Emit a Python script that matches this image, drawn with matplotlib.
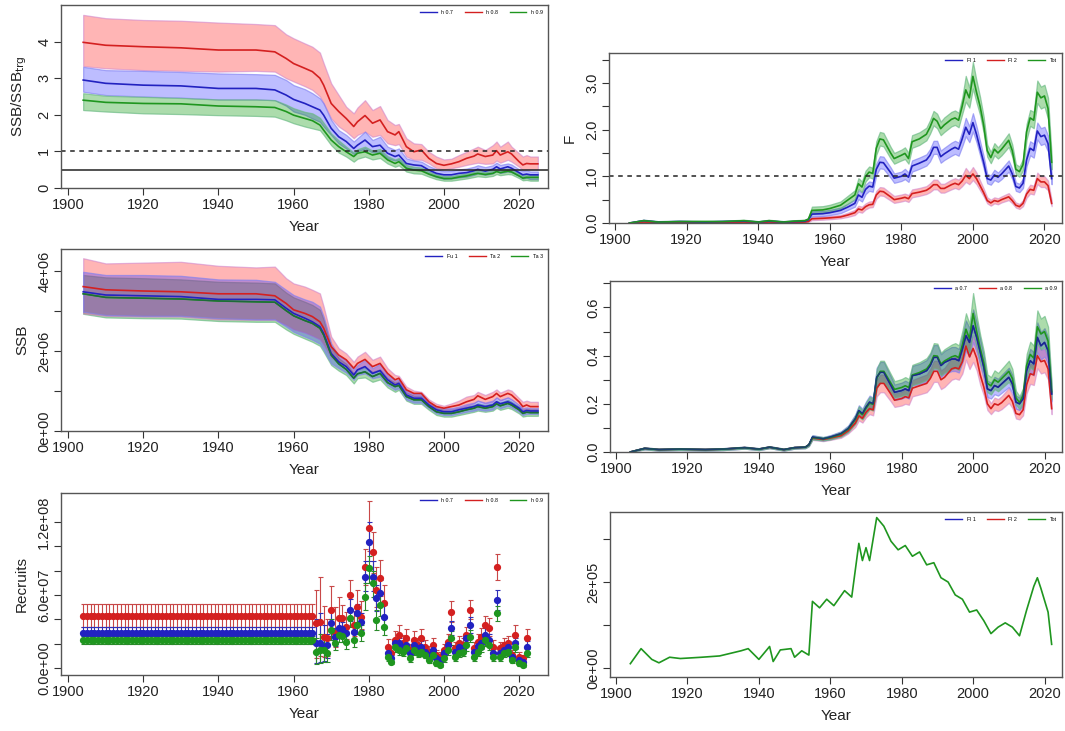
import matplotlib
matplotlib.use("Agg")
import matplotlib.pyplot as plt
import numpy as np
from matplotlib.lines import Line2D

plt.rcParams['font.family'] = ['Liberation Sans', 'DejaVu Sans']

# ---------------- DATA ----------------
# Panel 1/2 year grid (SSB)
ssb_years = [1904,1910,1920,1930,1940,1950,1955,1958,1960,1963,1965,1967,1968,1970,1972,1974,1976,1977,1979,1981,
             1983,1985,1987,1988,1990,1992,1994,1996,1998,2000,2002,2004,2006,2008,2009,2011,2013,2014,2015,2017,
             2018,2020,2021,2022,2023,2025]

# SSB / SSB_trg
rel_red_med = [3.98,3.90,3.86,3.83,3.77,3.77,3.72,3.54,3.40,3.27,3.18,3.00,2.81,2.31,2.09,1.90,1.68,1.81,1.98,1.77,1.86,1.54,1.45,1.54,1.13,0.99,1.04,0.81,0.67,0.62,0.66,0.72,0.81,0.87,0.93,0.86,0.90,1.02,0.90,0.99,0.93,0.72,0.63,0.67,0.66,0.66]
rel_red_hi = [4.73,4.64,4.59,4.57,4.52,4.48,4.45,4.20,4.09,3.95,3.86,3.70,3.41,2.86,2.54,2.22,2.04,2.20,2.40,2.13,2.24,1.86,1.72,1.75,1.36,1.22,1.20,0.99,0.86,0.78,0.80,0.90,0.99,1.08,1.13,1.04,1.17,1.27,1.13,1.27,1.13,0.95,0.86,0.90,0.86,0.86]
rel_red_lo = [3.33,3.27,3.22,3.20,3.18,3.20,3.18,3.00,2.91,2.78,2.68,2.50,2.31,1.90,1.68,1.54,1.36,1.45,1.54,1.40,1.45,1.22,1.17,1.20,0.86,0.77,0.77,0.67,0.54,0.51,0.54,0.58,0.63,0.67,0.69,0.66,0.67,0.75,0.69,0.77,0.72,0.58,0.49,0.51,0.51,0.51]
rel_blue_med = [2.95,2.86,2.81,2.79,2.72,2.72,2.68,2.54,2.42,2.31,2.22,2.13,1.99,1.63,1.40,1.27,1.08,1.17,1.31,1.13,1.17,0.95,0.86,0.90,0.67,0.63,0.61,0.49,0.40,0.36,0.36,0.40,0.42,0.47,0.51,0.46,0.51,0.58,0.52,0.58,0.54,0.42,0.36,0.38,0.36,0.36]
rel_blue_hi = [3.31,3.22,3.20,3.17,3.13,3.11,3.09,2.95,2.81,2.70,2.59,2.45,2.31,1.86,1.58,1.45,1.27,1.36,1.54,1.31,1.40,1.13,1.04,1.08,0.81,0.75,0.72,0.60,0.51,0.46,0.47,0.51,0.53,0.58,0.62,0.57,0.62,0.69,0.63,0.67,0.64,0.51,0.46,0.48,0.45,0.45]
rel_blue_lo = [2.63,2.54,2.50,2.47,2.42,2.42,2.40,2.25,2.09,2.00,1.90,1.81,1.68,1.45,1.22,1.08,0.93,1.00,1.08,0.97,1.00,0.81,0.75,0.78,0.54,0.52,0.50,0.38,0.30,0.25,0.26,0.29,0.31,0.36,0.40,0.36,0.40,0.47,0.41,0.45,0.43,0.33,0.26,0.28,0.24,0.24]
rel_green_med = [2.40,2.34,2.31,2.30,2.24,2.22,2.20,2.09,1.99,1.90,1.84,1.72,1.58,1.31,1.13,0.99,0.86,0.95,0.99,0.90,0.95,0.77,0.67,0.72,0.54,0.49,0.47,0.38,0.31,0.26,0.26,0.30,0.33,0.38,0.40,0.37,0.40,0.45,0.42,0.46,0.44,0.33,0.27,0.29,0.29,0.29]
rel_green_hi = [2.59,2.52,2.49,2.46,2.42,2.42,2.40,2.28,2.18,2.08,2.04,1.92,1.78,1.49,1.30,1.13,0.97,1.06,1.13,1.02,1.07,0.87,0.78,0.82,0.63,0.58,0.56,0.45,0.38,0.33,0.33,0.37,0.40,0.45,0.48,0.44,0.48,0.53,0.49,0.53,0.51,0.40,0.34,0.36,0.36,0.36]
rel_green_lo = [2.13,2.09,2.04,2.02,1.99,1.97,1.95,1.85,1.77,1.68,1.63,1.58,1.45,1.17,0.97,0.86,0.72,0.80,0.86,0.78,0.82,0.67,0.58,0.62,0.45,0.40,0.39,0.31,0.24,0.20,0.20,0.23,0.26,0.30,0.32,0.30,0.33,0.38,0.35,0.38,0.37,0.27,0.21,0.22,0.20,0.20]

# SSB (millions of units)
ssb_red_med = [3.61,3.53,3.50,3.48,3.43,3.43,3.38,3.19,3.03,2.94,2.86,2.73,2.57,2.11,1.90,1.78,1.57,1.69,1.79,1.61,1.69,1.44,1.28,1.32,1.03,0.94,0.94,0.73,0.61,0.57,0.61,0.65,0.73,0.79,0.88,0.79,0.86,0.94,0.86,0.94,0.90,0.73,0.61,0.65,0.61,0.61]
ssb_red_hi = [4.32,4.19,4.21,4.23,4.13,4.09,4.11,3.82,3.69,3.61,3.53,3.44,3.11,2.36,2.07,1.94,1.73,1.86,1.98,1.78,1.86,1.57,1.40,1.38,1.11,1.01,0.98,0.79,0.68,0.63,0.69,0.76,0.86,0.90,0.98,0.90,0.98,1.04,0.96,1.04,1.01,0.82,0.73,0.76,0.73,0.73]
ssb_red_lo = [2.94,2.88,2.86,2.86,2.79,2.78,2.78,2.65,2.54,2.46,2.38,2.29,2.15,1.84,1.71,1.59,1.40,1.53,1.61,1.46,1.53,1.29,1.15,1.23,0.94,0.86,0.88,0.68,0.54,0.51,0.54,0.57,0.63,0.69,0.76,0.69,0.73,0.84,0.76,0.84,0.79,0.65,0.51,0.54,0.51,0.51]
ssb_blue_med = [3.48,3.40,3.38,3.36,3.29,3.29,3.28,3.07,2.94,2.82,2.73,2.61,2.44,1.94,1.73,1.61,1.40,1.53,1.61,1.44,1.51,1.28,1.15,1.19,0.90,0.82,0.82,0.65,0.53,0.48,0.48,0.53,0.57,0.61,0.65,0.61,0.65,0.73,0.68,0.73,0.69,0.57,0.48,0.51,0.50,0.50]
ssb_blue_hi = [3.98,3.90,3.90,3.88,3.79,3.78,3.73,3.53,3.40,3.29,3.23,3.11,2.86,2.19,1.88,1.76,1.54,1.65,1.78,1.57,1.68,1.40,1.26,1.29,1.01,0.93,0.93,0.73,0.61,0.57,0.57,0.61,0.67,0.71,0.76,0.71,0.76,0.84,0.78,0.84,0.79,0.65,0.57,0.59,0.57,0.57]
ssb_blue_lo = [2.98,2.90,2.88,2.88,2.82,2.79,2.79,2.61,2.48,2.36,2.28,2.18,2.03,1.69,1.57,1.46,1.28,1.40,1.44,1.32,1.36,1.15,1.03,1.07,0.79,0.71,0.71,0.57,0.44,0.40,0.40,0.44,0.48,0.51,0.54,0.51,0.54,0.63,0.57,0.63,0.59,0.48,0.40,0.43,0.43,0.43]
ssb_green_med = [3.43,3.34,3.32,3.30,3.25,3.23,3.22,3.01,2.88,2.76,2.69,2.57,2.40,1.90,1.68,1.54,1.32,1.43,1.48,1.36,1.44,1.21,1.11,1.14,0.86,0.78,0.78,0.61,0.48,0.44,0.44,0.48,0.53,0.57,0.61,0.57,0.61,0.68,0.63,0.69,0.65,0.53,0.44,0.47,0.46,0.46]
ssb_green_hi = [3.90,3.84,3.82,3.79,3.73,3.71,3.69,3.46,3.34,3.23,3.15,3.03,2.78,2.11,1.82,1.68,1.44,1.54,1.59,1.48,1.54,1.32,1.21,1.24,0.96,0.88,0.88,0.69,0.57,0.53,0.53,0.57,0.61,0.65,0.69,0.65,0.69,0.76,0.71,0.78,0.73,0.61,0.53,0.55,0.54,0.54]
ssb_green_lo = [2.93,2.84,2.82,2.81,2.75,2.73,2.73,2.54,2.43,2.31,2.23,2.13,1.98,1.65,1.51,1.40,1.19,1.32,1.34,1.23,1.29,1.09,0.98,1.03,0.76,0.68,0.68,0.53,0.40,0.36,0.36,0.40,0.44,0.48,0.51,0.48,0.51,0.58,0.53,0.58,0.55,0.44,0.36,0.38,0.38,0.38]

# Recruits (millions) - early constant period and annual estimates
rec_early_years = list(range(1904, 1966))
rec_early = {'red': (42.7, 34.0, 53.0), 'blue': (29.0, 24.0, 34.0), 'green': (23.0, 19.5, 26.5)}
rec_years = list(range(1966, 2023))
rec_red = [36.7,38.1,25.8,24.4,47.7,28.5,40.8,40.8,34.0,60.0,35.3,50.4,42.2,83.3,114.8,95.6,64.1,73.7,53.2,17.5,12.1,23.0,27.1,20.3,24.4,14.8,23.0,18.9,24.4,17.5,13.4,18.9,10.7,9.3,14.8,21.6,46.3,16.2,20.3,18.9,27.1,47.7,16.2,21.6,25.8,35.3,32.6,17.5,82.7,16.2,18.9,20.3,10.7,27.1,9.3,7.9,24.4]
rec_red_hi = [64,75,51,40,67,50,58,52,46,72,47,64,55,98,137,112,83,89,68,24,17,30,35,27,32,20,30,25,32,23,18,25,15,13,20,28,55,21,26,25,34,56,21,28,33,43,41,23,94,21,25,26,15,35,13,11,32]
rec_red_lo = [8,10,9,10,30,17,28,29,24,47,26,38,32,68,96,78,50,59,41,12,8,17,20,15,18,10,17,14,18,13,9,14,7,6,10,16,38,12,15,14,21,40,12,16,19,28,26,13,72,12,14,15,7,20,6,5,18]
rec_blue = [20.3,20.3,17.5,18.9,36.7,25.8,32.6,31.8,28.5,47.7,29.9,44.9,38.1,75.1,103.8,75.1,57.3,61.4,42.2,12.1,7.9,20.3,20.3,17.5,18.9,12.1,18.9,16.2,17.5,13.4,10.7,14.8,7.9,6.6,12.1,18.9,32.6,13.4,17.5,16.2,24.4,35.3,13.4,18.1,20.3,27.1,23.0,12.1,55.9,12.1,14.8,17.5,9.3,20.3,6.6,5.2,17.5]
rec_blue_hi = [40,45,35,28,48,33,40,38,35,57,36,53,45,88,120,88,68,72,52,16,11,25,25,22,23,16,23,20,22,17,14,19,11,9,16,23,39,17,22,20,29,42,17,22,25,33,28,16,64,16,19,22,13,25,9,8,22]
rec_blue_lo = [4,5,6,8,26,18,25,25,22,39,23,37,31,63,88,63,47,51,33,8,5,16,16,13,15,8,15,12,13,10,7,11,5,4,8,15,27,10,13,12,20,29,10,14,16,22,18,8,48,8,11,13,6,16,4,3,13]
rec_green = [13.4,14.8,14.8,12.1,31.2,20.3,27.1,26.3,21.6,40.8,23.0,35.3,28.5,58.6,81.9,69.6,39.5,51.8,34.0,9.3,5.2,17.5,14.8,13.4,16.2,7.9,14.8,12.1,13.4,10.7,6.6,10.7,3.8,2.5,7.9,14.8,24.4,9.3,12.1,13.4,18.9,25.8,9.3,13.4,17.5,23.0,18.9,9.3,44.9,9.3,12.1,13.4,6.6,17.5,3.8,2.5,12.1]
rec_green_hi = [25,28,24,20,40,26,33,32,28,48,29,43,35,70,92,80,48,61,41,13,8,22,19,17,20,11,19,16,17,14,10,14,7,6,11,19,30,13,16,17,24,31,13,17,22,28,23,13,51,13,16,17,10,22,6,5,16]
rec_green_lo = [3,4,5,5,23,15,21,21,16,34,17,28,22,48,70,58,31,43,27,6,3,13,11,10,12,5,11,9,10,8,4,8,2,1,5,11,19,6,9,10,14,21,6,10,13,18,15,6,39,6,9,10,4,13,2,1,9]

# Right column year grid
rc_years = [1904,1908,1912,1918,1925,1930,1936,1940,1943,1947,1950,1953,1954,
            1955,1958,1960,1963,1965,1967,1968,1969,1970,1971,1972,1973,1974,1975,1977,1978,1980,1981,1982,1983,
            1985,1987,1988,1989,1990,1991,1992,1994,1995,1996,1997,1998,1999,2000,2001,2002,2003,2004,2005,2006,
            2007,2008,2010,2011,2012,2013,2014,2015,2016,2017,2018,2019,2020,2021,2022]

# Fishing mortality
F_tot_med = [0.00,0.05,0.02,0.03,0.03,0.03,0.05,0.02,0.05,0.02,0.04,0.05,0.08,
             0.27,0.28,0.31,0.38,0.49,0.60,0.84,0.77,1.00,1.09,1.06,1.60,1.80,1.78,1.50,1.38,1.45,1.49,1.38,1.74,1.80,1.90,2.05,2.24,2.18,2.02,2.10,2.22,2.25,2.20,2.50,2.85,2.68,3.14,2.80,2.50,2.10,1.55,1.40,1.58,1.50,1.58,1.77,1.55,1.15,1.10,1.25,1.95,2.25,2.20,2.80,2.68,2.72,2.45,1.30]
F_tot_hi = [0.01,0.07,0.04,0.05,0.05,0.05,0.07,0.04,0.07,0.04,0.06,0.07,0.11,
            0.35,0.36,0.39,0.46,0.58,0.70,0.96,0.89,1.12,1.21,1.18,1.75,1.95,1.93,1.63,1.50,1.57,1.62,1.50,1.88,1.94,2.04,2.20,2.40,2.34,2.17,2.26,2.38,2.41,2.36,2.68,3.15,2.90,3.45,3.05,2.70,2.28,1.68,1.52,1.71,1.62,1.71,1.92,1.68,1.26,1.21,1.37,2.12,2.42,2.38,3.05,2.92,2.96,2.68,1.45]
F_tot_lo = [0.00,0.03,0.01,0.02,0.02,0.02,0.03,0.01,0.03,0.01,0.02,0.03,0.06,
            0.20,0.21,0.24,0.30,0.41,0.51,0.73,0.66,0.89,0.98,0.95,1.46,1.66,1.64,1.38,1.27,1.34,1.37,1.27,1.61,1.67,1.77,1.91,2.09,2.03,1.88,1.95,2.07,2.10,2.05,2.33,2.60,2.47,2.88,2.58,2.31,1.93,1.42,1.28,1.45,1.38,1.45,1.63,1.42,1.04,0.99,1.13,1.79,2.08,2.03,2.57,2.45,2.49,2.23,1.15]
F_a1_med = [0.00,0.05,0.02,0.03,0.02,0.03,0.04,0.02,0.04,0.02,0.03,0.04,0.07,
            0.19,0.20,0.22,0.27,0.34,0.42,0.60,0.55,0.72,0.79,0.77,1.15,1.30,1.29,1.08,0.96,1.00,1.05,0.98,1.22,1.28,1.35,1.45,1.62,1.62,1.42,1.48,1.58,1.62,1.58,1.80,2.05,1.90,2.15,1.90,1.60,1.30,0.95,0.92,1.03,0.98,1.05,1.22,1.05,0.78,0.75,0.85,1.35,1.60,1.55,1.97,1.85,1.88,1.70,0.95]
F_a1_hi = [0.01,0.07,0.04,0.05,0.04,0.05,0.06,0.04,0.06,0.04,0.05,0.06,0.10,
           0.25,0.26,0.28,0.33,0.41,0.50,0.70,0.65,0.82,0.89,0.87,1.27,1.43,1.42,1.19,1.06,1.10,1.16,1.08,1.34,1.40,1.47,1.58,1.76,1.76,1.55,1.61,1.72,1.76,1.72,1.96,2.25,2.07,2.35,2.07,1.75,1.43,1.05,1.02,1.14,1.08,1.16,1.34,1.16,0.87,0.84,0.95,1.48,1.75,1.70,2.15,2.03,2.06,1.87,1.07]
F_a1_lo = [0.00,0.03,0.01,0.02,0.01,0.02,0.03,0.01,0.03,0.01,0.02,0.03,0.05,
           0.14,0.15,0.17,0.21,0.28,0.35,0.51,0.46,0.62,0.69,0.67,1.03,1.17,1.16,0.97,0.86,0.90,0.94,0.88,1.10,1.16,1.23,1.32,1.48,1.48,1.29,1.35,1.44,1.48,1.44,1.64,1.86,1.73,1.96,1.73,1.45,1.17,0.85,0.82,0.92,0.88,0.94,1.10,0.94,0.69,0.66,0.75,1.22,1.45,1.40,1.79,1.67,1.70,1.53,0.83]
F_a2_med = [0.00,0.02,0.01,0.01,0.01,0.01,0.02,0.01,0.02,0.01,0.01,0.02,0.03,
            0.09,0.10,0.11,0.13,0.17,0.22,0.30,0.28,0.35,0.39,0.40,0.60,0.68,0.67,0.56,0.50,0.53,0.55,0.52,0.63,0.66,0.70,0.75,0.82,0.82,0.74,0.74,0.82,0.85,0.82,0.90,1.02,0.95,1.05,0.95,0.80,0.65,0.48,0.43,0.48,0.46,0.50,0.56,0.48,0.38,0.35,0.42,0.62,0.72,0.70,0.95,0.88,0.88,0.80,0.42]
F_a2_hi = [0.01,0.03,0.02,0.02,0.02,0.02,0.03,0.02,0.03,0.02,0.02,0.03,0.05,
           0.13,0.14,0.15,0.17,0.22,0.28,0.37,0.35,0.42,0.46,0.47,0.69,0.77,0.76,0.64,0.58,0.61,0.63,0.60,0.72,0.75,0.79,0.85,0.93,0.93,0.84,0.84,0.93,0.96,0.93,1.02,1.18,1.08,1.20,1.08,0.91,0.74,0.55,0.50,0.55,0.53,0.57,0.64,0.55,0.44,0.41,0.49,0.71,0.82,0.80,1.08,1.00,1.00,0.91,0.49]
F_a2_lo = [0.00,0.01,0.00,0.00,0.00,0.00,0.01,0.00,0.01,0.00,0.00,0.01,0.02,
           0.06,0.07,0.08,0.10,0.13,0.17,0.24,0.22,0.29,0.33,0.34,0.52,0.59,0.58,0.48,0.43,0.46,0.48,0.45,0.55,0.58,0.62,0.66,0.72,0.72,0.65,0.65,0.72,0.75,0.72,0.79,0.88,0.83,0.92,0.83,0.70,0.57,0.42,0.37,0.42,0.40,0.44,0.49,0.42,0.33,0.30,0.36,0.54,0.63,0.61,0.83,0.77,0.77,0.70,0.36]

# Exploitation (panel 5)
E_pre = [0.000,0.015,0.010,0.012,0.010,0.012,0.018,0.012,0.020,0.010,0.018,0.020,0.030]
E_pre_hi = [0.004,0.019,0.014,0.016,0.014,0.016,0.022,0.016,0.024,0.014,0.022,0.024,0.035]
E_pre_lo = [0.000,0.011,0.006,0.008,0.006,0.008,0.014,0.008,0.016,0.006,0.014,0.016,0.025]
E_blue_med = [0.062,0.055,0.062,0.076,0.097,0.138,0.172,0.159,0.186,0.207,0.200,0.310,0.331,0.331,0.276,0.248,0.255,0.262,0.255,0.317,0.324,0.338,0.359,0.393,0.393,0.359,0.372,0.386,0.386,0.379,0.428,0.483,0.455,0.524,0.476,0.414,0.352,0.262,0.255,0.276,0.269,0.283,0.310,0.283,0.207,0.200,0.221,0.338,0.379,0.366,0.476,0.441,0.455,0.421,0.241]
E_blue_hi = [0.070,0.062,0.070,0.086,0.110,0.156,0.194,0.180,0.210,0.234,0.226,0.350,0.374,0.374,0.312,0.280,0.288,0.296,0.288,0.358,0.366,0.382,0.406,0.444,0.444,0.406,0.420,0.436,0.436,0.428,0.484,0.546,0.514,0.592,0.538,0.468,0.398,0.296,0.288,0.312,0.304,0.320,0.350,0.320,0.234,0.226,0.250,0.382,0.428,0.414,0.538,0.498,0.514,0.476,0.272]
E_blue_lo = [0.054,0.048,0.054,0.066,0.084,0.120,0.150,0.138,0.162,0.180,0.174,0.270,0.288,0.288,0.240,0.216,0.222,0.228,0.222,0.276,0.282,0.294,0.312,0.342,0.342,0.312,0.324,0.336,0.336,0.330,0.372,0.420,0.396,0.456,0.414,0.360,0.306,0.228,0.222,0.240,0.234,0.246,0.270,0.246,0.180,0.174,0.192,0.294,0.330,0.318,0.414,0.384,0.396,0.366,0.210]
E_green_med = [0.060,0.055,0.060,0.074,0.095,0.135,0.168,0.155,0.182,0.203,0.198,0.305,0.335,0.335,0.285,0.260,0.268,0.275,0.268,0.320,0.330,0.345,0.365,0.400,0.398,0.365,0.378,0.395,0.400,0.392,0.445,0.510,0.470,0.575,0.500,0.430,0.370,0.285,0.275,0.300,0.290,0.305,0.335,0.305,0.225,0.205,0.235,0.360,0.405,0.390,0.520,0.490,0.500,0.460,0.250]
E_green_hi = [0.068,0.062,0.068,0.084,0.107,0.153,0.190,0.175,0.206,0.229,0.224,0.345,0.379,0.379,0.322,0.294,0.303,0.311,0.303,0.362,0.373,0.390,0.412,0.452,0.450,0.412,0.427,0.446,0.452,0.443,0.503,0.576,0.531,0.660,0.565,0.486,0.418,0.322,0.311,0.339,0.328,0.345,0.379,0.345,0.254,0.232,0.266,0.407,0.458,0.441,0.588,0.554,0.565,0.520,0.283]
E_green_lo = [0.052,0.048,0.052,0.064,0.083,0.117,0.146,0.135,0.158,0.177,0.172,0.265,0.291,0.291,0.248,0.226,0.233,0.239,0.233,0.278,0.287,0.300,0.318,0.348,0.346,0.318,0.329,0.344,0.348,0.341,0.387,0.444,0.409,0.500,0.435,0.374,0.322,0.248,0.239,0.261,0.252,0.265,0.291,0.265,0.196,0.178,0.204,0.313,0.352,0.339,0.452,0.426,0.435,0.400,0.218]
E_red_med = [0.058,0.052,0.058,0.068,0.088,0.120,0.150,0.140,0.165,0.180,0.175,0.265,0.285,0.285,0.240,0.215,0.222,0.230,0.225,0.265,0.275,0.285,0.305,0.335,0.335,0.300,0.310,0.345,0.350,0.345,0.375,0.440,0.395,0.430,0.390,0.320,0.270,0.200,0.180,0.200,0.195,0.205,0.235,0.210,0.160,0.155,0.175,0.280,0.325,0.320,0.400,0.375,0.380,0.345,0.180]
E_red_hi = [0.066,0.059,0.066,0.077,0.099,0.136,0.170,0.158,0.186,0.203,0.198,0.299,0.322,0.322,0.271,0.243,0.251,0.260,0.254,0.299,0.311,0.322,0.345,0.379,0.379,0.339,0.350,0.390,0.396,0.390,0.424,0.497,0.446,0.486,0.441,0.362,0.305,0.226,0.203,0.226,0.220,0.232,0.266,0.237,0.181,0.175,0.198,0.316,0.367,0.362,0.452,0.424,0.429,0.390,0.203]
E_red_lo = [0.050,0.045,0.050,0.059,0.077,0.104,0.131,0.122,0.144,0.157,0.152,0.231,0.248,0.248,0.209,0.187,0.193,0.200,0.196,0.231,0.239,0.248,0.265,0.291,0.291,0.261,0.270,0.300,0.305,0.300,0.326,0.383,0.344,0.374,0.339,0.278,0.235,0.174,0.157,0.174,0.170,0.178,0.204,0.183,0.139,0.135,0.152,0.244,0.283,0.278,0.348,0.326,0.331,0.300,0.157]

# Catch (panel 6, x1e5)
c_years = [1904,1907,1910,1912,1915,1918,1924,1929,1935,1937,1940,1943,1944,1946,1949,1950,1952,1954,1955,1957,1959,1961,1964,1966,
           1968,1969,1970,1971,1973,1975,1977,1979,1981,1983,1985,1987,1989,1991,1993,1995,1997,1999,2001,2003,2005,2007,2009,
           2011,2013,2015,2017,2018,2019,2021,2022]
c_vals = [0.10,0.45,0.20,0.12,0.25,0.22,0.25,0.28,0.40,0.45,0.20,0.50,0.15,0.42,0.45,0.25,0.40,0.30,1.55,1.40,1.60,1.45,1.80,1.65,
          2.90,2.50,2.80,2.50,3.50,3.30,2.95,2.75,2.85,2.60,2.70,2.40,2.45,2.10,2.00,1.70,1.60,1.30,1.35,1.10,0.80,0.95,1.05,
          0.95,0.75,1.35,1.90,2.10,1.85,1.30,0.55]

leg_left = ['h 0.7', 'h 0.8', 'h 0.9']
leg_ssb = ['Fu 1', 'Ta 2', 'Ta 3']
leg_fleet = ['Fl 1', 'Fl 2', 'Tot']
leg_e = ['a 0.7', 'a 0.8', 'a 0.9']
year_ticks = [1900, 1920, 1940, 1960, 1980, 2000, 2020]

# ---------------- STYLE ----------------
RED = '#d42020'
BLUE = '#2222c0'
GREEN = '#1f961f'
FILL = {'red': (1.0, 0.2, 0.2, 0.36), 'blue': (0.2, 0.2, 1.0, 0.32), 'green': (0.05, 0.6, 0.05, 0.34)}
EDGE = {'red': (0.8, 0.5, 0.8, 0.55), 'blue': (0.5, 0.5, 0.95, 0.65), 'green': (0.4, 0.72, 0.5, 0.65)}
LINE = {'red': RED, 'blue': BLUE, 'green': GREEN}

W, H = 1065, 731
fig = plt.figure(figsize=(W / 100, H / 100), dpi=100)


def add_ax(l, t, r, b):
    return fig.add_axes([l / W, 1 - b / H, (r - l) / W, (b - t) / H])


def style(ax, xlim, ylim, yticks, ylabels, ylabel=None, ylabel_x=None):
    ax.set_xlim(*xlim)
    ax.set_ylim(*ylim)
    ax.set_xticks(year_ticks)
    ax.set_yticks(yticks)
    ax.set_yticklabels(ylabels)
    ax.tick_params(direction='out', length=5, width=0.8, color='#333333', labelsize=10.5,
                   labelcolor='#222222', pad=2)
    ax.tick_params(axis='y', labelrotation=90)
    for t in ax.get_yticklabels():
        t.set_verticalalignment('center')
    for s in ax.spines.values():
        s.set_color('#555555')
        s.set_linewidth(1.0)
    ax.set_xlabel('Year', fontsize=11, labelpad=6, color='#222222')
    if ylabel:
        ax.set_ylabel(ylabel, fontsize=11, labelpad=6, color='#222222')
        if ylabel_x is not None:
            ax.yaxis.set_label_coords(ylabel_x, 0.5)


def legend(ax, labels, colors):
    handles = [Line2D([0], [0], color=c, lw=1.0) for c in colors]
    ax.legend(handles, labels, loc='upper right', ncol=3, fontsize=3.8, frameon=False,
              handlelength=3.2, columnspacing=2.2, handletextpad=0.8, borderaxespad=0.6)


def band(ax, x, lo, hi, med, key, lw=1.2):
    ax.fill_between(x, lo, hi, facecolor=FILL[key], edgecolor=EDGE[key], linewidth=0.9)
    ax.plot(x, med, color=LINE[key], lw=lw)


left_xlim = (1898.1, 2027.7)
right_xlim = (1898.3, 2024.9)

# Panel 1: SSB/SSB_trg
ax1 = add_ax(61, 5, 548, 188)
band(ax1, ssb_years, rel_red_lo, rel_red_hi, rel_red_med, 'red')
band(ax1, ssb_years, rel_blue_lo, rel_blue_hi, rel_blue_med, 'blue')
band(ax1, ssb_years, rel_green_lo, rel_green_hi, rel_green_med, 'green')
ax1.axhline(1.0, color='#222222', lw=1.1, ls=(0, (3, 3)))
ax1.axhline(0.5, color='#222222', lw=1.1)
style(ax1, left_xlim, (0, 5.0), [0, 1, 2, 3, 4], ['0', '1', '2', '3', '4'], r'SSB/SSB$_{\mathrm{trg}}$')
legend(ax1, leg_left, [BLUE, RED, GREEN])

# Panel 2: SSB
ax2 = add_ax(61, 249, 548, 431)
sc = 1e6
band(ax2, ssb_years, np.array(ssb_green_lo) * sc, np.array(ssb_green_hi) * sc, np.array(ssb_green_med) * sc, 'green')
band(ax2, ssb_years, np.array(ssb_red_lo) * sc, np.array(ssb_red_hi) * sc, np.array(ssb_red_med) * sc, 'red')
band(ax2, ssb_years, np.array(ssb_blue_lo) * sc, np.array(ssb_blue_hi) * sc, np.array(ssb_blue_med) * sc, 'blue')
ax2.plot(ssb_years, np.array(ssb_green_med) * sc, color='#1d6a3a', lw=1.0)
style(ax2, left_xlim, (0, 4.55e6), [0, 1e6, 2e6, 3e6, 4e6], ['0e+00', '', '2e+06', '', '4e+06'], 'SSB')
legend(ax2, leg_ssb, [BLUE, RED, GREEN])

# Panel 3: Recruits
ax3 = add_ax(61, 493, 548, 675)
rsc = 1e6
ebar_col = {'red': '#c84848', 'blue': '#3030b8', 'green': '#2a8a2a'}
rec_sets = [('red', rec_red, rec_red_lo, rec_red_hi), ('blue', rec_blue, rec_blue_lo, rec_blue_hi),
            ('green', rec_green, rec_green_lo, rec_green_hi)]
for key, med, lo, hi in rec_sets:
    em, elo, ehi = rec_early[key]
    yrs = rec_early_years + rec_years
    m = np.array([em] * len(rec_early_years) + med) * rsc
    l = np.array([elo] * len(rec_early_years) + lo) * rsc
    h = np.array([ehi] * len(rec_early_years) + hi) * rsc
    ax3.errorbar(yrs, m, yerr=[m - l, h - m], fmt='o', ms=4.2, color=LINE[key], ecolor=ebar_col[key],
                 elinewidth=0.8, capsize=1.8, capthick=0.8, mec=LINE[key])
style(ax3, left_xlim, (-5.75e6, 143.8e6), [0, 2e7, 4e7, 6e7, 8e7, 1e8, 1.2e8],
      ['0.0e+00', '', '', '6.0e+07', '', '', '1.2e+08'], 'Recruits')
legend(ax3, leg_left, [BLUE, RED, GREEN])

# Panel 4: F
ax4 = add_ax(609, 53, 1062, 223)
band(ax4, rc_years, F_a2_lo, F_a2_hi, F_a2_med, 'red')
band(ax4, rc_years, F_a1_lo, F_a1_hi, F_a1_med, 'blue')
band(ax4, rc_years, F_tot_lo, F_tot_hi, F_tot_med, 'green')
ax4.axhline(1.0, color='#222222', lw=1.1, ls=(0, (3, 3)))
style(ax4, right_xlim, (0, 3.64), [0, 0.5, 1, 1.5, 2, 2.5, 3, 3.5], ['0.0', '', '1.0', '', '2.0', '', '3.0', ''],
      'F', ylabel_x=-0.072)
legend(ax4, leg_fleet, [BLUE, RED, GREEN])

# Panel 5
ax5 = add_ax(610, 281, 1062, 452)
band(ax5, rc_years, E_pre_lo + E_red_lo, E_pre_hi + E_red_hi, E_pre + E_red_med, 'red')
band(ax5, rc_years, E_pre_lo + E_blue_lo, E_pre_hi + E_blue_hi, E_pre + E_blue_med, 'blue')
band(ax5, rc_years, E_pre_lo + E_green_lo, E_pre_hi + E_green_hi, E_pre + E_green_med, 'green')
ax5.plot(rc_years, E_pre + E_blue_med, color='#1a2a80', lw=1.0, alpha=0.8)
style(ax5, right_xlim, (0, 0.71), [0, 0.1, 0.2, 0.3, 0.4, 0.5, 0.6, 0.7],
      ['0.0', '', '0.2', '', '0.4', '', '0.6', ''])
legend(ax5, leg_e, [BLUE, RED, GREEN])

# Panel 6: catch
ax6 = add_ax(610, 512, 1062, 677)
ax6.plot(c_years, np.array(c_vals) * 1e5, color=GREEN, lw=1.2)
style(ax6, right_xlim, (-0.21e5, 3.63e5), [0, 1e5, 2e5, 3e5], ['0e+00', '', '2e+05', ''])
legend(ax6, leg_fleet, [BLUE, RED, GREEN])

fig.savefig('out.png', dpi=100)
